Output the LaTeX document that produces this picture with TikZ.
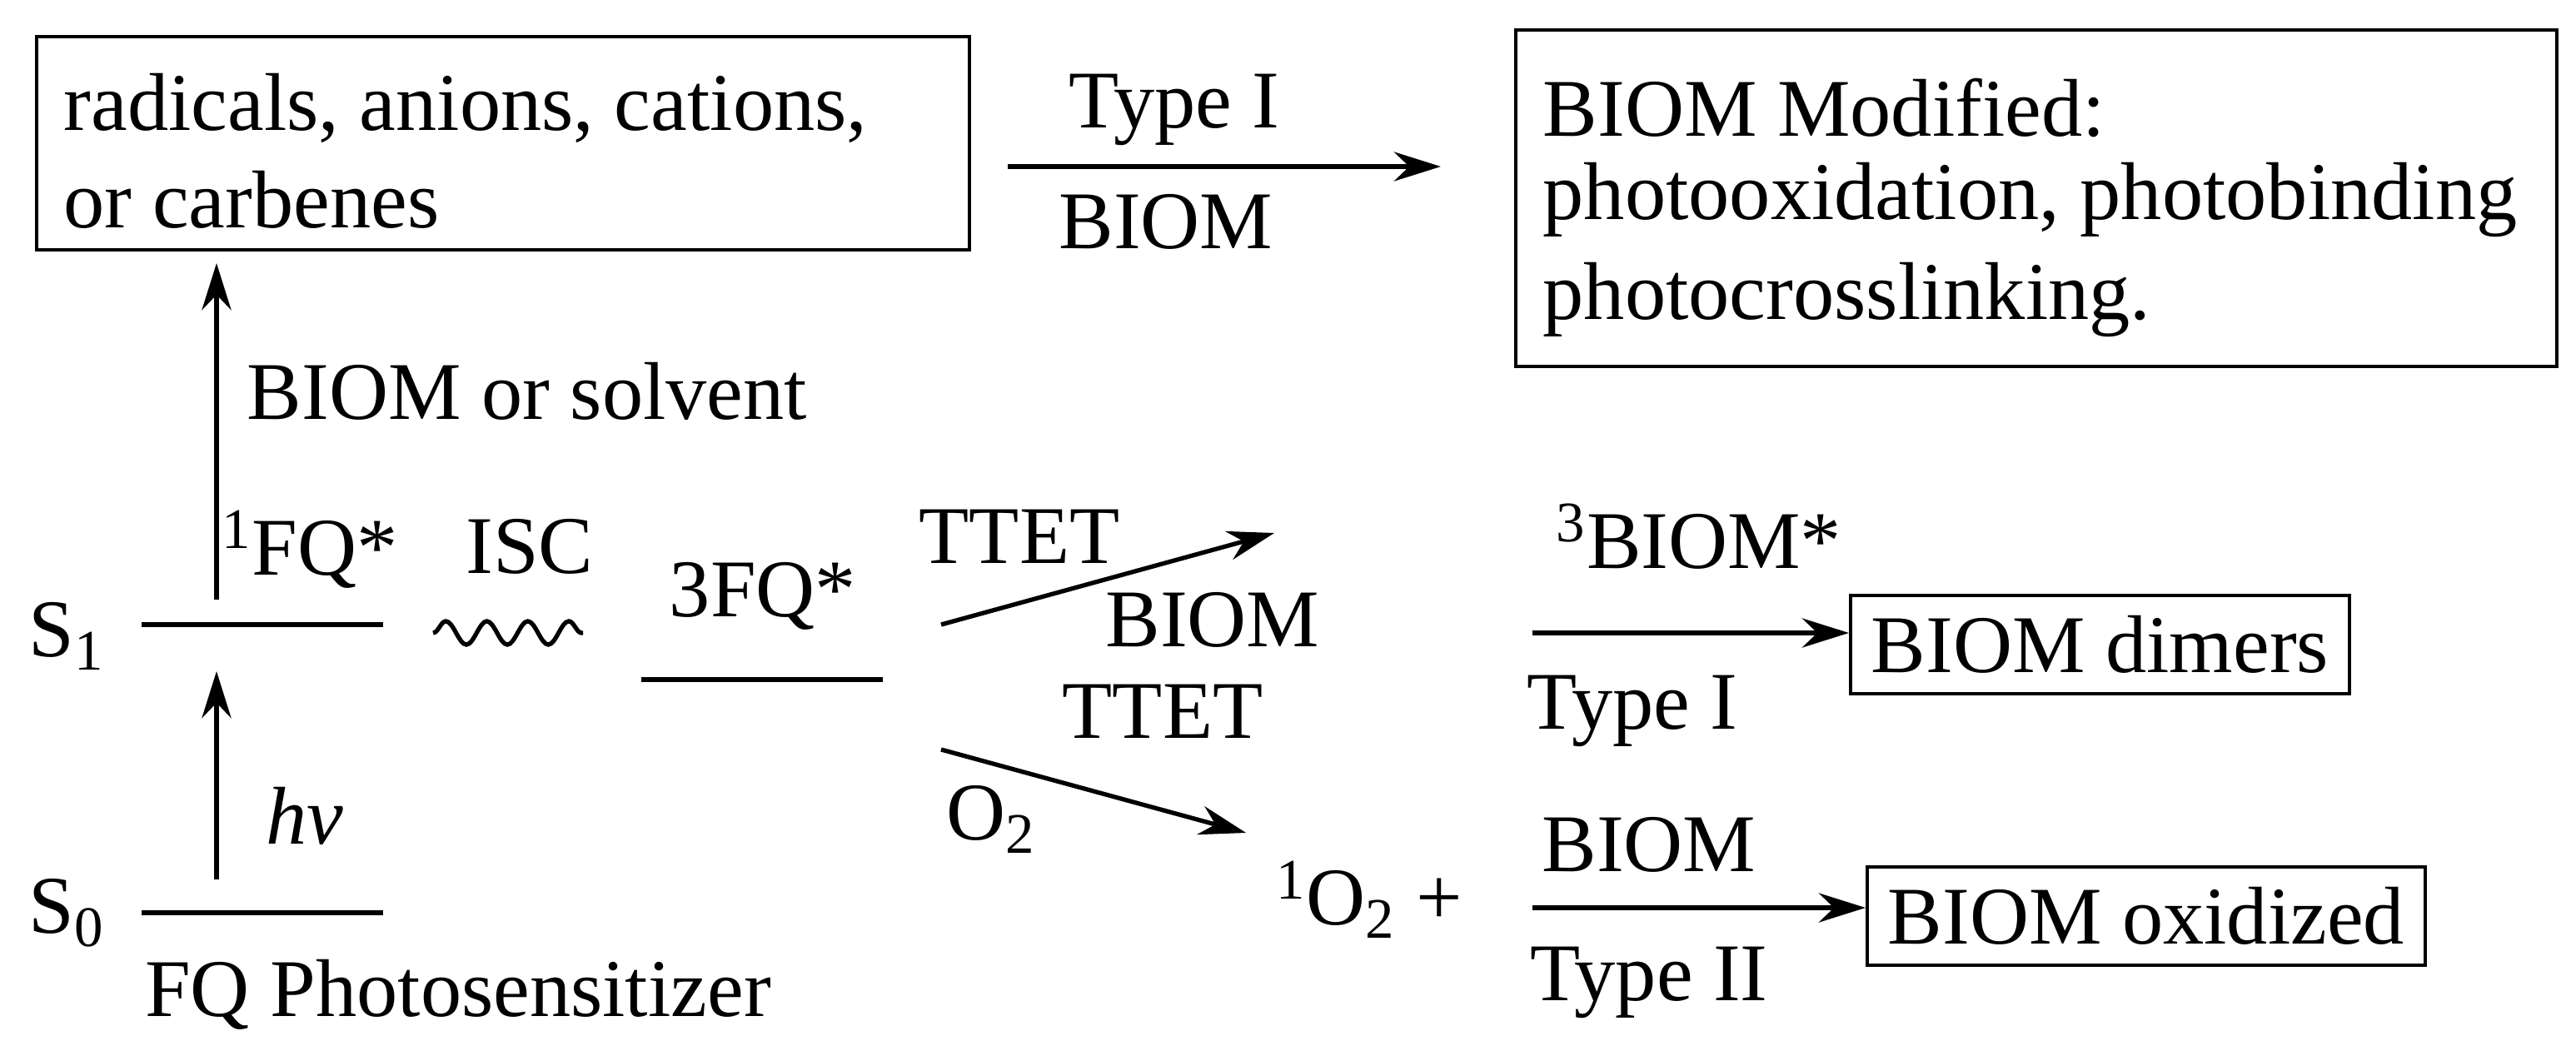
\documentclass[tikz,border=0pt]{standalone}
\usepackage{fontspec}
\setmainfont{Liberation Serif}
\usetikzlibrary{arrows.meta,decorations.pathmorphing}
\begin{document}
\begin{tikzpicture}[x={(0.02cm,0)},y={(0,-0.02cm)},
  every node/.style={font=\fontsize{28}{34}\selectfont},
  txt/.style={inner sep=0pt},
  box/.style={draw,line width=1.2pt,inner sep=0pt},
  arr/.style={line width=1.5pt,-{Stealth[length=16pt,width=10pt]}},
  lvl/.style={line width=1.5pt}]
\useasboundingbox (0,0) rectangle (1546.5,625);
% boxes
\draw[box] (22,22) rectangle (582,150);
\node[txt,anchor=west] (r1) at (38,65) {radicals, anions, cations,};
\node[txt,anchor=west] (r2) at (38,120) {or carbenes};
\coordinate (b1e) at (605,100);
\coordinate (b2w) at (865,100);
\draw[arr] (b1e) -- (b2w);
\node[txt] (t1) at (705,66) {Type I};
\node[txt] (bi1) at (700,133) {BIOM};
\draw[box] (910,18) rectangle (1535,220);
\node[txt,anchor=west] (m1) at (926,65) {BIOM Modified:};
\node[txt,anchor=west] (m2) at (926,120) {photooxidation, photobinding};
\node[txt,anchor=west] (m3) at (926,180) {photocrosslinking.};
% levels
\node[txt] (s1) at (40,382) {S\textsubscript{1}};
\node[txt] (s0) at (40,548) {S\textsubscript{0}};
\coordinate (l1a) at (85,375); \coordinate (l1b) at (230,375);
\draw[lvl] (l1a) -- (l1b);
\coordinate (l0a) at (85,548); \coordinate (l0b) at (230,548);
\draw[lvl] (l0a) -- (l0b);
\coordinate (l3a) at (385,408); \coordinate (l3b) at (530,408);
\draw[lvl] (l3a) -- (l3b);
\node[txt] (fq1) at (186,330) {\textsuperscript{1}FQ*};
\node[txt] (fq3) at (458,358) {3FQ*};
\node[txt] (isc) at (318,328) {ISC};
\coordinate (w1) at (260,380); \coordinate (w2) at (350,380);
\draw[line width=1.5pt,decorate,decoration={snake,amplitude=4pt,segment length=14pt}] (w1) -- (w2);
\coordinate (hv0) at (130,528); \coordinate (hv1) at (130,403);
\draw[arr] (hv0) -- (hv1);
\node[txt] (hv) at (183,490) {\itshape hv};
\coordinate (up0) at (130,360); \coordinate (up1) at (130,158);
\draw[arr] (up0) -- (up1);
\node[txt,anchor=west] (bs) at (148,235) {BIOM or solvent};
\node[txt] (ph) at (275,597) {FQ Photosensitizer};
% TTET arrows
\coordinate (ta0) at (565,375); \coordinate (ta1) at (765,320);
\draw[arr] (ta0) -- (ta1);
\node[txt] (tt1) at (612,322) {TTET};
\node[txt] (bi2) at (728,372) {BIOM};
\coordinate (tb0) at (565,450); \coordinate (tb1) at (748,500);
\draw[arr] (tb0) -- (tb1);
\node[txt] (tt2) at (698,427) {TTET};
\node[txt] (o2) at (595,492) {O\textsubscript{2}};
% right
\node[txt] (b3) at (1020,322) {\textsuperscript{3}BIOM*};
\coordinate (d0) at (920,380);
\node[box,inner xsep=7pt,inner ysep=7pt,anchor=west] (dim) at (1110,387) {BIOM dimers};
\draw[arr] (d0) -- (dim.west|-d0);
\node[txt] (ty1) at (980,427) {Type I};
\node[txt] (o21) at (822,540) {\textsuperscript{1}O\textsubscript{2} +};
\coordinate (x0) at (920,545);
\node[box,inner xsep=7pt,inner ysep=7pt,anchor=west] (ox) at (1120,550) {BIOM oxidized};
\draw[arr] (x0) -- (ox.west|-x0);
\node[txt] (bi3) at (990,507) {BIOM};
\node[txt] (ty2) at (990,590) {Type II};
\end{tikzpicture}
\end{document}
